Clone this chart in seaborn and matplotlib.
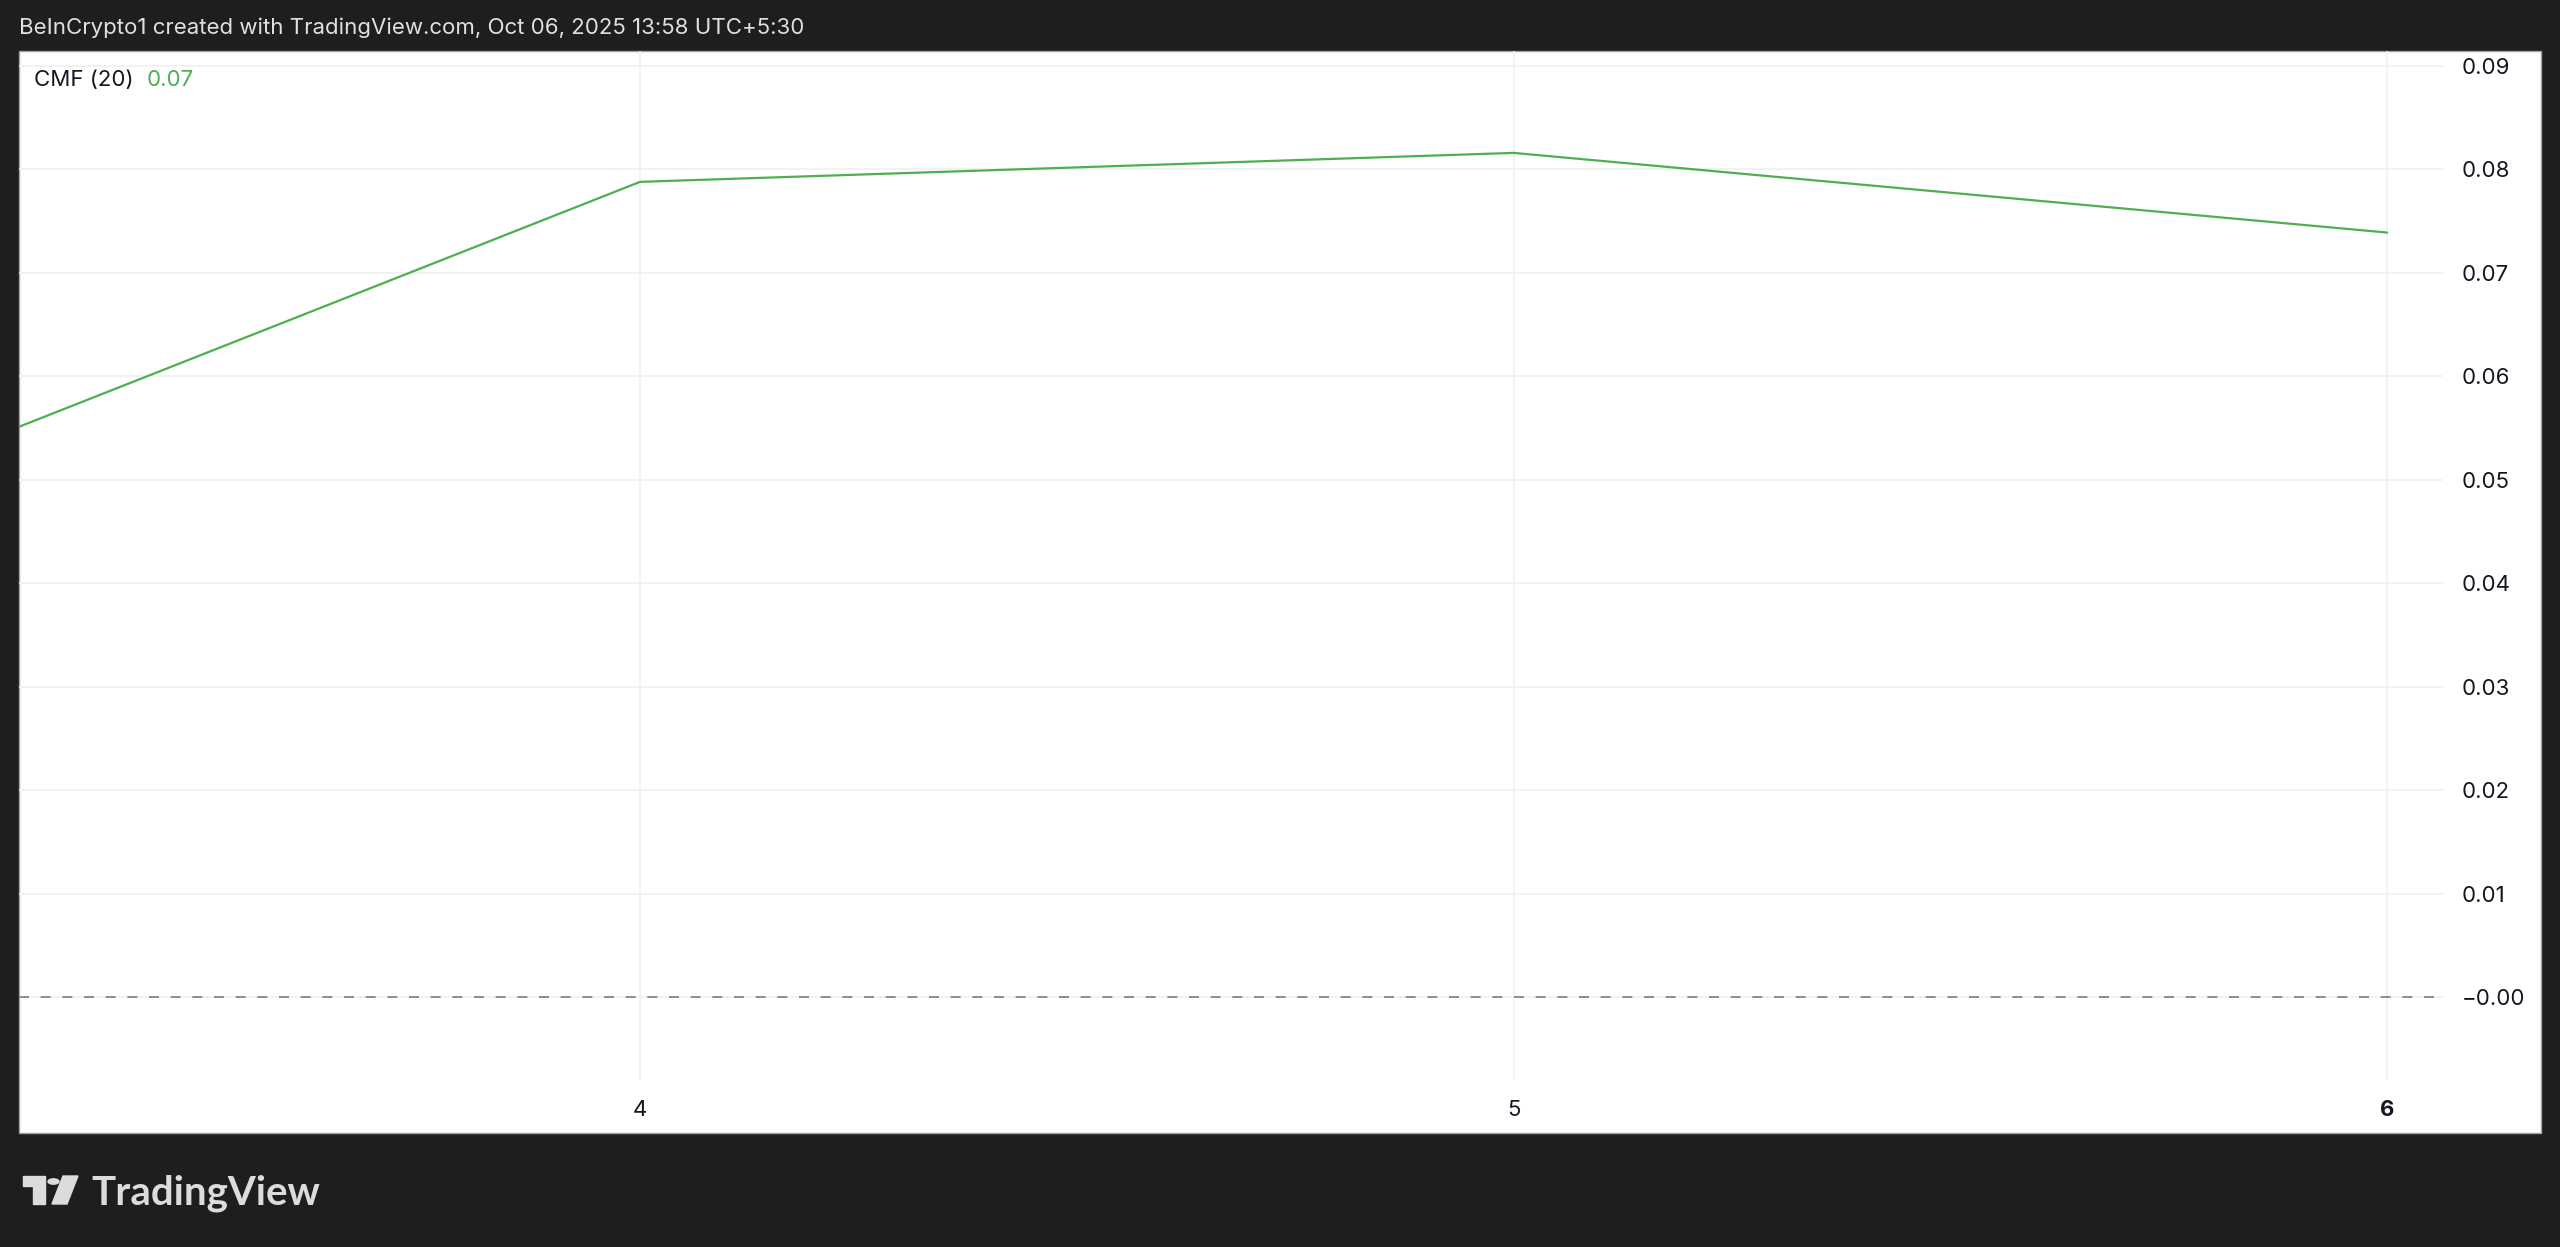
import matplotlib
matplotlib.use("Agg")
import matplotlib.pyplot as plt
import seaborn as sns
from matplotlib.patches import Rectangle, Polygon, Circle

# ---- data ----
days = [3, 4, 5, 6]
cmf = [0.0455, 0.0788, 0.0816, 0.0739]
xtick_vals = [4, 5, 6]
xtick_labels = ["4", "5", "6"]
ytick_vals = [0.00, 0.01, 0.02, 0.03, 0.04, 0.05, 0.06, 0.07, 0.08, 0.09]
ytick_labels = ["\u22120.00", "0.01", "0.02", "0.03", "0.04", "0.05", "0.06", "0.07", "0.08", "0.09"]
title = "BeInCrypto1 created with TradingView.com, Oct 06, 2025 13:58 UTC+5:30"
indicator_name = "CMF (20)"
indicator_value = "0.07"

sns.set_theme(style="white")
plt.rcParams['font.family'] = ['Inter', 'DejaVu Sans']

W, H = 2560, 1247
BG = '#1e1e1e'
GREEN = '#4caf50'
TXT = '#131722'

fig = plt.figure(figsize=(W / 100, H / 100), dpi=100, facecolor=BG)

# white panel (behind the axes)
fig.patches.append(Rectangle((19 / W, 1 - 1133 / H), (2541 - 19) / W, (1133 - 51) / H,
                             transform=fig.transFigure, facecolor='white',
                             edgecolor='#a0a0a0', lw=1.0, zorder=-10))

ax = fig.add_axes([19 / W, 1 - 1080 / H, (2443 - 19) / W, (1080 - 51) / H])
ax.set_zorder(1)
ax.set_facecolor('none')
ax.patch.set_alpha(0)
for s in ax.spines.values():
    s.set_visible(False)

sns.lineplot(x=days, y=cmf, ax=ax, color=GREEN, lw=1.6, zorder=3)
ax.axhline(0, color='#787b86', lw=1.2, ls=(0, (6, 7)), zorder=2)

ax.set_xlim(3.289, 6.064)
ax.set_ylim(-0.00802, 0.09145)

ax.yaxis.tick_right()
ax.set_yticks(ytick_vals)
ax.set_yticklabels(ytick_labels)
ax.set_xticks(xtick_vals)
ax.set_xticklabels(xtick_labels)
ax.tick_params(axis='y', length=0, pad=13.5, labelsize=16, labelcolor=TXT)
ax.tick_params(axis='x', length=0, pad=14.5, labelsize=16, labelcolor=TXT)
ax.get_xticklabels()[-1].set_fontweight('bold')
ax.grid(True, color='#f0f0f0', lw=1.2, zorder=0)
ax.set_axisbelow(True)
ax.set_xlabel("")
ax.set_ylabel("")

# header text
fig.text(19 / W, 1 - 28 / H, title, color='#e0e0e0', fontsize=16, va='center', ha='left')

# indicator legend
fig.text(34 / W, 1 - 80 / H, indicator_name, color=TXT, fontsize=16, va='center', ha='left', zorder=5)
fig.text(147 / W, 1 - 80 / H, indicator_value, color=GREEN, fontsize=16, va='center', ha='left', zorder=5)

# TradingView logo
LOGO = '#dcdcdc'
def fx(px):
    return px / W
def fy(py):
    return 1 - py / H
fig.patches.append(Polygon([(fx(23), fy(1176)), (fx(45), fy(1176)), (fx(45), fy(1204)),
                            (fx(33), fy(1204)), (fx(33), fy(1186)), (fx(23), fy(1186))],
                           closed=True, transform=fig.transFigure, color=LOGO))
fig.patches.append(Circle((fx(53.5), fy(1181.5)), 5.5 / W, transform=fig.transFigure, color=LOGO))
fig.patches.append(Polygon([(fx(63), fy(1176)), (fx(78), fy(1176)), (fx(67), fy(1204)), (fx(52), fy(1204))],
                           closed=True, transform=fig.transFigure, color=LOGO))
fig.text(fx(91), fy(1204), "TradingView", color=LOGO, fontsize=29, fontweight='bold',
         va='baseline', ha='left', family=['Lato', 'DejaVu Sans'])

fig.savefig("out.png", dpi=100, facecolor=BG)
